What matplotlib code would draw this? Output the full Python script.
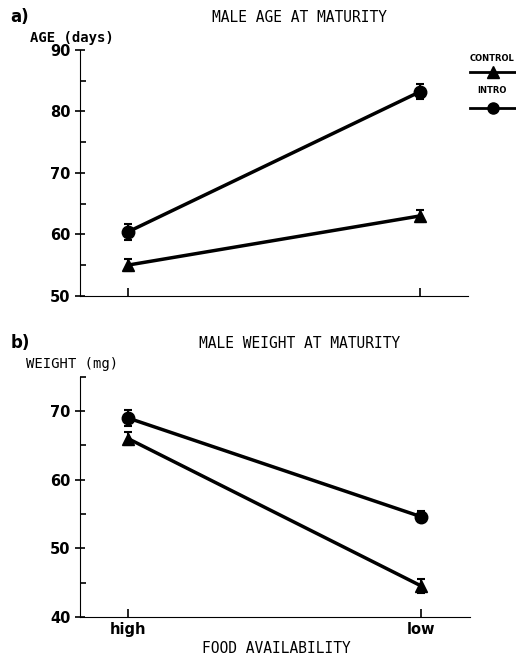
import matplotlib.pyplot as plt
from matplotlib.lines import Line2D

# datos
food = ['high', 'low']
age_control = [55.0, 63.0]
age_control_err = [1.0, 1.0]
age_intro = [60.4, 83.2]
age_intro_err = [1.3, 1.2]
wt_control = [66.0, 44.5]
wt_control_err = [1.0, 1.0]
wt_intro = [69.0, 54.6]
wt_intro_err = [1.1, 0.8]

mono = 'DejaVu Sans Mono'
x = [0, 1]

fig = plt.figure(figsize=(5.16, 6.56), dpi=100)
ax1 = fig.add_axes([0.155, 0.549, 0.752, 0.375])
ax2 = fig.add_axes([0.155, 0.0595, 0.755, 0.366])


def panel(ax, ctrl, ctrl_err, intro, intro_err, ylim, major, minor):
    ax.errorbar(x, ctrl, yerr=ctrl_err, color='black', lw=2.5, marker='^', ms=9,
                capsize=3, elinewidth=1.5, capthick=1.5)
    ax.errorbar(x, intro, yerr=intro_err, color='black', lw=2.5, marker='o', ms=9,
                capsize=3, elinewidth=1.5, capthick=1.5)
    ax.set_xlim(-0.164, 1.164)
    ax.set_ylim(*ylim)
    ax.set_yticks(major)
    ax.set_yticks(minor, minor=True)
    ax.set_xticks(x)
    ax.spines['top'].set_visible(False)
    ax.spines['right'].set_visible(False)
    ax.tick_params(axis='y', which='major', direction='inout', length=7, width=1.2)
    ax.tick_params(axis='y', which='minor', direction='in', length=4, width=1.2)
    ax.tick_params(axis='x', direction='in', length=6, width=1.2)
    for lab in ax.get_yticklabels() + ax.get_xticklabels():
        lab.set_fontweight('bold')
        lab.set_fontsize(10.5)


panel(ax1, age_control, age_control_err, age_intro, age_intro_err,
      (50, 90), [50, 60, 70, 80, 90], [55, 65, 75, 85])
ax1.set_xticklabels([])

panel(ax2, wt_control, wt_control_err, wt_intro, wt_intro_err,
      (40, 75), [40, 50, 60, 70], [45, 55, 65, 75])
ax2.set_xticklabels(food)

fig.text(0.02, 0.974, 'a)', fontsize=12, fontweight='bold', va='center')
fig.text(0.58, 0.974, 'MALE AGE AT MATURITY', family=mono, fontsize=10.5, ha='center', va='center')
fig.text(0.058, 0.942, 'AGE (days)', family=mono, fontsize=10, fontweight='bold', va='center')

fig.text(0.02, 0.477, 'b)', fontsize=12, fontweight='bold', va='center')
fig.text(0.58, 0.477, 'MALE WEIGHT AT MATURITY', family=mono, fontsize=10.5, ha='center', va='center')
fig.text(0.05, 0.445, 'WEIGHT (mg)', family=mono, fontsize=10, va='center')

fig.text(0.535, 0.012, 'FOOD AVAILABILITY', family=mono, fontsize=10.5, ha='center', va='center')

# leyenda a la derecha
fig.text(0.953, 0.911, 'CONTROL', fontsize=6, fontweight='bold', ha='center', va='center')
fig.add_artist(Line2D([0.91, 0.955, 1.0], [0.89, 0.89, 0.89], color='black', lw=2,
                      marker='^', ms=8, markevery=[1], transform=fig.transFigure))
fig.text(0.953, 0.862, 'INTRO', fontsize=6, fontweight='bold', ha='center', va='center')
fig.add_artist(Line2D([0.91, 0.955, 1.0], [0.835, 0.835, 0.835], color='black', lw=2,
                      marker='o', ms=8, markevery=[1], transform=fig.transFigure))

fig.savefig('out.png', dpi=100)
